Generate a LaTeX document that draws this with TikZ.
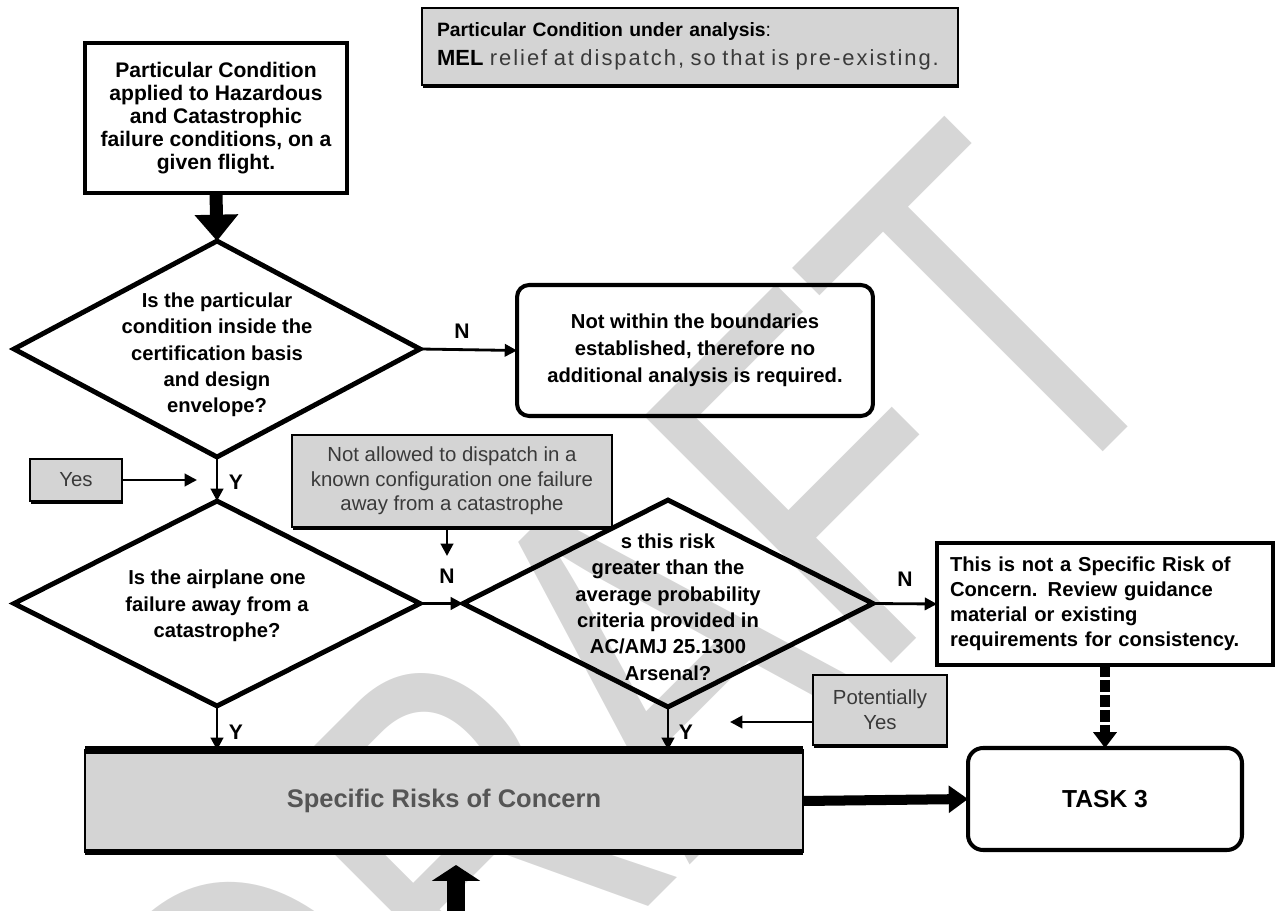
\documentclass[tikz,border=0pt]{standalone}
\usepackage{fontspec}
\setmainfont{Liberation Sans}
\newfontfamily\spacedfont[LetterSpace=9]{Liberation Sans}
\usetikzlibrary{arrows.meta,shapes.geometric,shadows}
\definecolor{boxgray}{HTML}{D4D4D4}
\definecolor{txtgray}{HTML}{3A3A3A}
\definecolor{srcgray}{HTML}{555555}
\definecolor{wmgray}{HTML}{D6D6D6}
\tikzset{
  every node/.style={outer sep=0pt},
  blkbox/.style={draw=black, line width=2.3pt, fill=white, align=center, inner sep=0pt,
    font=\bfseries\fontsize{12}{13}\selectfont},
  rbox/.style={draw=black, line width=2.3pt, rounded corners=0.24cm, align=center, inner sep=0pt,
    font=\bfseries\fontsize{11.5}{15.5}\selectfont},
  dia/.style={diamond, draw=black, line width=2.8pt, fill=white, inner sep=0pt},
  diatext/.style={align=center, inner sep=0pt, font=\bfseries\fontsize{11.5}{15}\selectfont},
  graybox/.style={draw=black, line width=0.8pt, fill=boxgray, inner sep=0pt, align=center,
    text=txtgray, font=\fontsize{11.6}{14}\selectfont,
    drop shadow={shadow xshift=0.6pt, shadow yshift=-1.8pt, opacity=1, fill=black}},
  lab/.style={font=\bfseries\fontsize{12}{14}\selectfont, inner sep=0pt},
  conn/.style={draw=black, line width=1.6pt, -{Triangle[length=7pt,width=7pt]}},
  fatconn/.style={draw=black, line width=7.4pt, -{Triangle[length=15pt,width=24pt]}},
  wideconn/.style={draw=black, line width=5.7pt, -{Triangle[length=11pt,width=15pt]}},
  dashconn/.style={draw=black, line width=5.5pt, dash pattern=on 7pt off 1.5pt,
    -{Triangle[length=9pt,width=13pt]}},
  upconn/.style={draw=black, line width=10pt, -{Triangle[length=9pt,width=27pt]}},
  wmark/.style={text=wmgray, inner sep=0pt, font=\fontsize{289}{300}\selectfont}
}
\begin{document}
\begin{tikzpicture}[x=0.02cm, y=-0.02cm]
\useasboundingbox (0,0) rectangle (1277,911);
% watermark
\begin{scope}
\clip (0,0) rectangle (1277,911);
\node[wmark, anchor=base west, rotate=45, xscale=0.75] (wm) at (301,1254) {DRAFT};
\end{scope}

% top note
\node[graybox, text width=10.12cm, inner xsep=0.3cm, minimum height=1.54cm, align=left,
  text=black, font=\fontsize{11}{16.5}\selectfont] (topnote) at (690,46.5)
  {\textbf{Particular Condition under analysis}:\\
   \mbox{\fontsize{12.5}{16.5}\selectfont\textbf{MEL}\ {\spacedfont\color{txtgray}relief at dispatch, so that is pre-existing.}}};

% start box
\node[blkbox, minimum width=5.24cm, minimum height=3cm] (b1) at (216,118)
  {Particular Condition\\applied to Hazardous\\and Catastrophic\\failure conditions, on a\\given flight.};

% diamond 1
\node[dia, minimum width=8.12cm, minimum height=4.32cm] (d1) at (217,349) {};
\node[diatext] (d1t) at (217,355) {Is the particular\\condition inside the\\certification basis\\and design\\envelope?};

% box not within
\node[rbox, minimum width=7.12cm, minimum height=2.62cm] (b2) at (695,350.5)
  {Not within the boundaries\\established, therefore no\\additional analysis is required.};

% yes box
\node[graybox, minimum width=1.84cm, minimum height=0.84cm] (yes) at (76,480) {Yes};
\coordinate (yesend) at (197,480);

% note box
\node[graybox, minimum width=6.4cm, minimum height=1.84cm, font=\fontsize{11.6}{14}\selectfont] (note) at (452,481)
  {Not allowed to dispatch in a\\known configuration one failure\\away from a catastrophe};
\coordinate (noteend) at (447,556);

% diamond 2
\node[dia, minimum width=8.12cm, minimum height=4.1cm] (d2) at (217,603.5) {};
\node[diatext] (d2t) at (217,606) {Is the airplane one\\failure away from a\\catastrophe?};

% diamond 3
\node[dia, fill=none, minimum width=8.2cm, minimum height=4.14cm] (d3) at (668,603.5) {};
\node[diatext] (d3t) at (668,607) {s this risk\\greater than the\\average probability\\criteria provided in\\AC/AMJ 25.1300\\Arsenal?};

% box 4
\node[draw=black, line width=2.4pt, inner sep=0pt, inner xsep=0.26cm, text width=6.2cm, minimum height=2.44cm,
  align=left, font=\bfseries\fontsize{11.5}{14.2}\selectfont] (b4) at (1105,604)
  {This is not a Specific Risk of\\Concern. Review guidance\\material or existing\\requirements for consistency.};

% potentially yes
\node[graybox, minimum width=2.68cm, minimum height=1.4cm] (pot) at (880,710) {Potentially\\Yes};
\coordinate (potend) at (730,722);

% specific risks
\node[draw=black, line width=1.4pt, fill=boxgray, minimum width=14.36cm, minimum height=2.04cm,
  text=srcgray, font=\bfseries\fontsize{14.5}{16}\selectfont] (src) at (444,801) {Specific Risks of Concern};
\draw[line width=4pt] (src.north west) -- (src.north east);
\draw[line width=3.5pt] (src.south west) -- (src.south east);

% task 3
\node[draw=black, line width=2.3pt, rounded corners=0.3cm, minimum width=5.48cm, minimum height=2.04cm,
  font=\bfseries\fontsize{14}{16}\selectfont] (t3) at (1105,799) {TASK 3};

% connectors
\draw[fatconn] (b1.south) -- (d1.north);
\draw[conn] (d1.east) -- (b2.west);
\node[lab] (n1) at (462,331) {N};
\draw[conn] (yes.east) -- (yesend);
\draw[conn] (d1.south) -- (d2.north);
\node[lab] (y1) at (236,482) {Y};
\draw[conn] (note.south -| noteend) -- (noteend);
\draw[conn] (d2.east) -- (d3.west);
\node[lab] (n2) at (447,576) {N};
\draw[conn] (d3.east) -- (b4.west);
\node[lab] (n3) at (905,579) {N};
\draw[conn] (d2.south) -- (d2.south |- src.north);
\node[lab] (y2) at (236,732) {Y};
\draw[conn] (d3.south) -- (d3.south |- src.north);
\node[lab] (y3) at (686,732) {Y};
\draw[conn] (pot.west |- potend) -- (potend);
\draw[dashconn] (b4.south) -- (t3.north);
\draw[wideconn] (src.east) -- (t3.west);
\coordinate (upstart) at (456,915);
\coordinate (upend) at (456,865);
\draw[upconn] (upstart) -- (upend);
\end{tikzpicture}
\end{document}
